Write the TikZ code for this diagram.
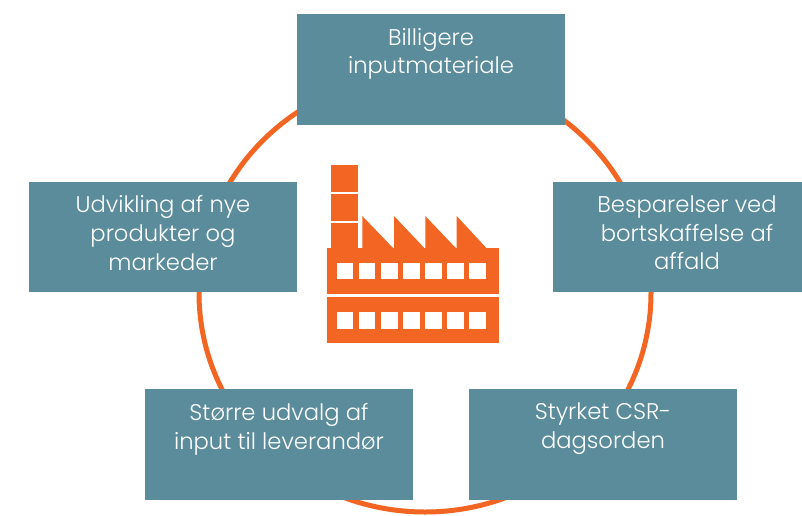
\documentclass[tikz,border=0pt]{standalone}
\usepackage{fontspec}
\setmainfont{Poppins Light}

\definecolor{boxteal}{HTML}{5B8C9C}
\definecolor{ringorange}{HTML}{F26522}

\begin{document}
\begin{tikzpicture}
            [x=0.75pt, y=-0.75pt,
             goal/.style={shape=rectangle, fill=boxteal, draw=none, inner sep=0pt,
                          minimum width=201pt, minimum height=83pt},
             goaltext/.style={anchor=north, text=white, align=center, inner sep=0pt,
                              font=\fontsize{17}{21.5}\selectfont},
             factory/.style={fill=ringorange, draw=none}]
            \useasboundingbox (0,0) rectangle (802,515);
            \clip (0,0) rectangle (802,515);

            % ring behind the boxes
            \draw[ringorange, line width=3.75pt] (425,293) ellipse [x radius=169.5pt, y radius=164.25pt];

            \node[goal] (top) at (431, 69.5) {};
            \node[goal] (left) at (163, 237) {};
            \node[goal] (right) at (687, 237) {};
            \node[goal] (botleft) at (279, 444.5) {};
            \node[goal] (botright) at (603, 444.5) {};

            \node[goaltext] (toptext) at ([yshift=-10.5pt]top.north) {Billigere\\inputmateriale};
            \node[goaltext] (lefttext) at ([yshift=-10.5pt]left.north) {Udvikling af nye\\produkter og\\markeder};
            \node[goaltext] (righttext) at ([yshift=-10.5pt]right.north) {Besparelser ved\\bortskaffelse af\\affald};
            \node[goaltext] (botlefttext) at ([yshift=-10.5pt]botleft.north) {Større udvalg af\\input til leverandør};
            \node[goaltext] (botrighttext) at ([yshift=-10.5pt]botright.north) {Styrket CSR-\\dagsorden};

            % factory
            \fill[factory] (330.7,165) rectangle (357.7,192);
            \fill[factory] (330.7,194) rectangle (357.7,221);
            \fill[factory] (330.7,223) rectangle (357.7,249);
            \fill[factory] (362.3,249) -- (362.3,216) -- (394,249) -- (394,216) -- (425.3,249)
                -- (425.3,216) -- (456.7,249) -- (456.7,216) -- (487.3,249) -- cycle;
            \fill[factory] (326.7,248.3) rectangle (498.7,294);
            \fill[factory] (326.7,297) rectangle (498.7,343.3);
            \foreach \i in {0,...,6} {
                \fill[white] (336.7+22.05*\i,263.3) rectangle +(16.7,16);
                \fill[white] (336.7+22.05*\i,312.3) rectangle +(16.7,16.7);
            }
        \end{tikzpicture}
\end{document}
